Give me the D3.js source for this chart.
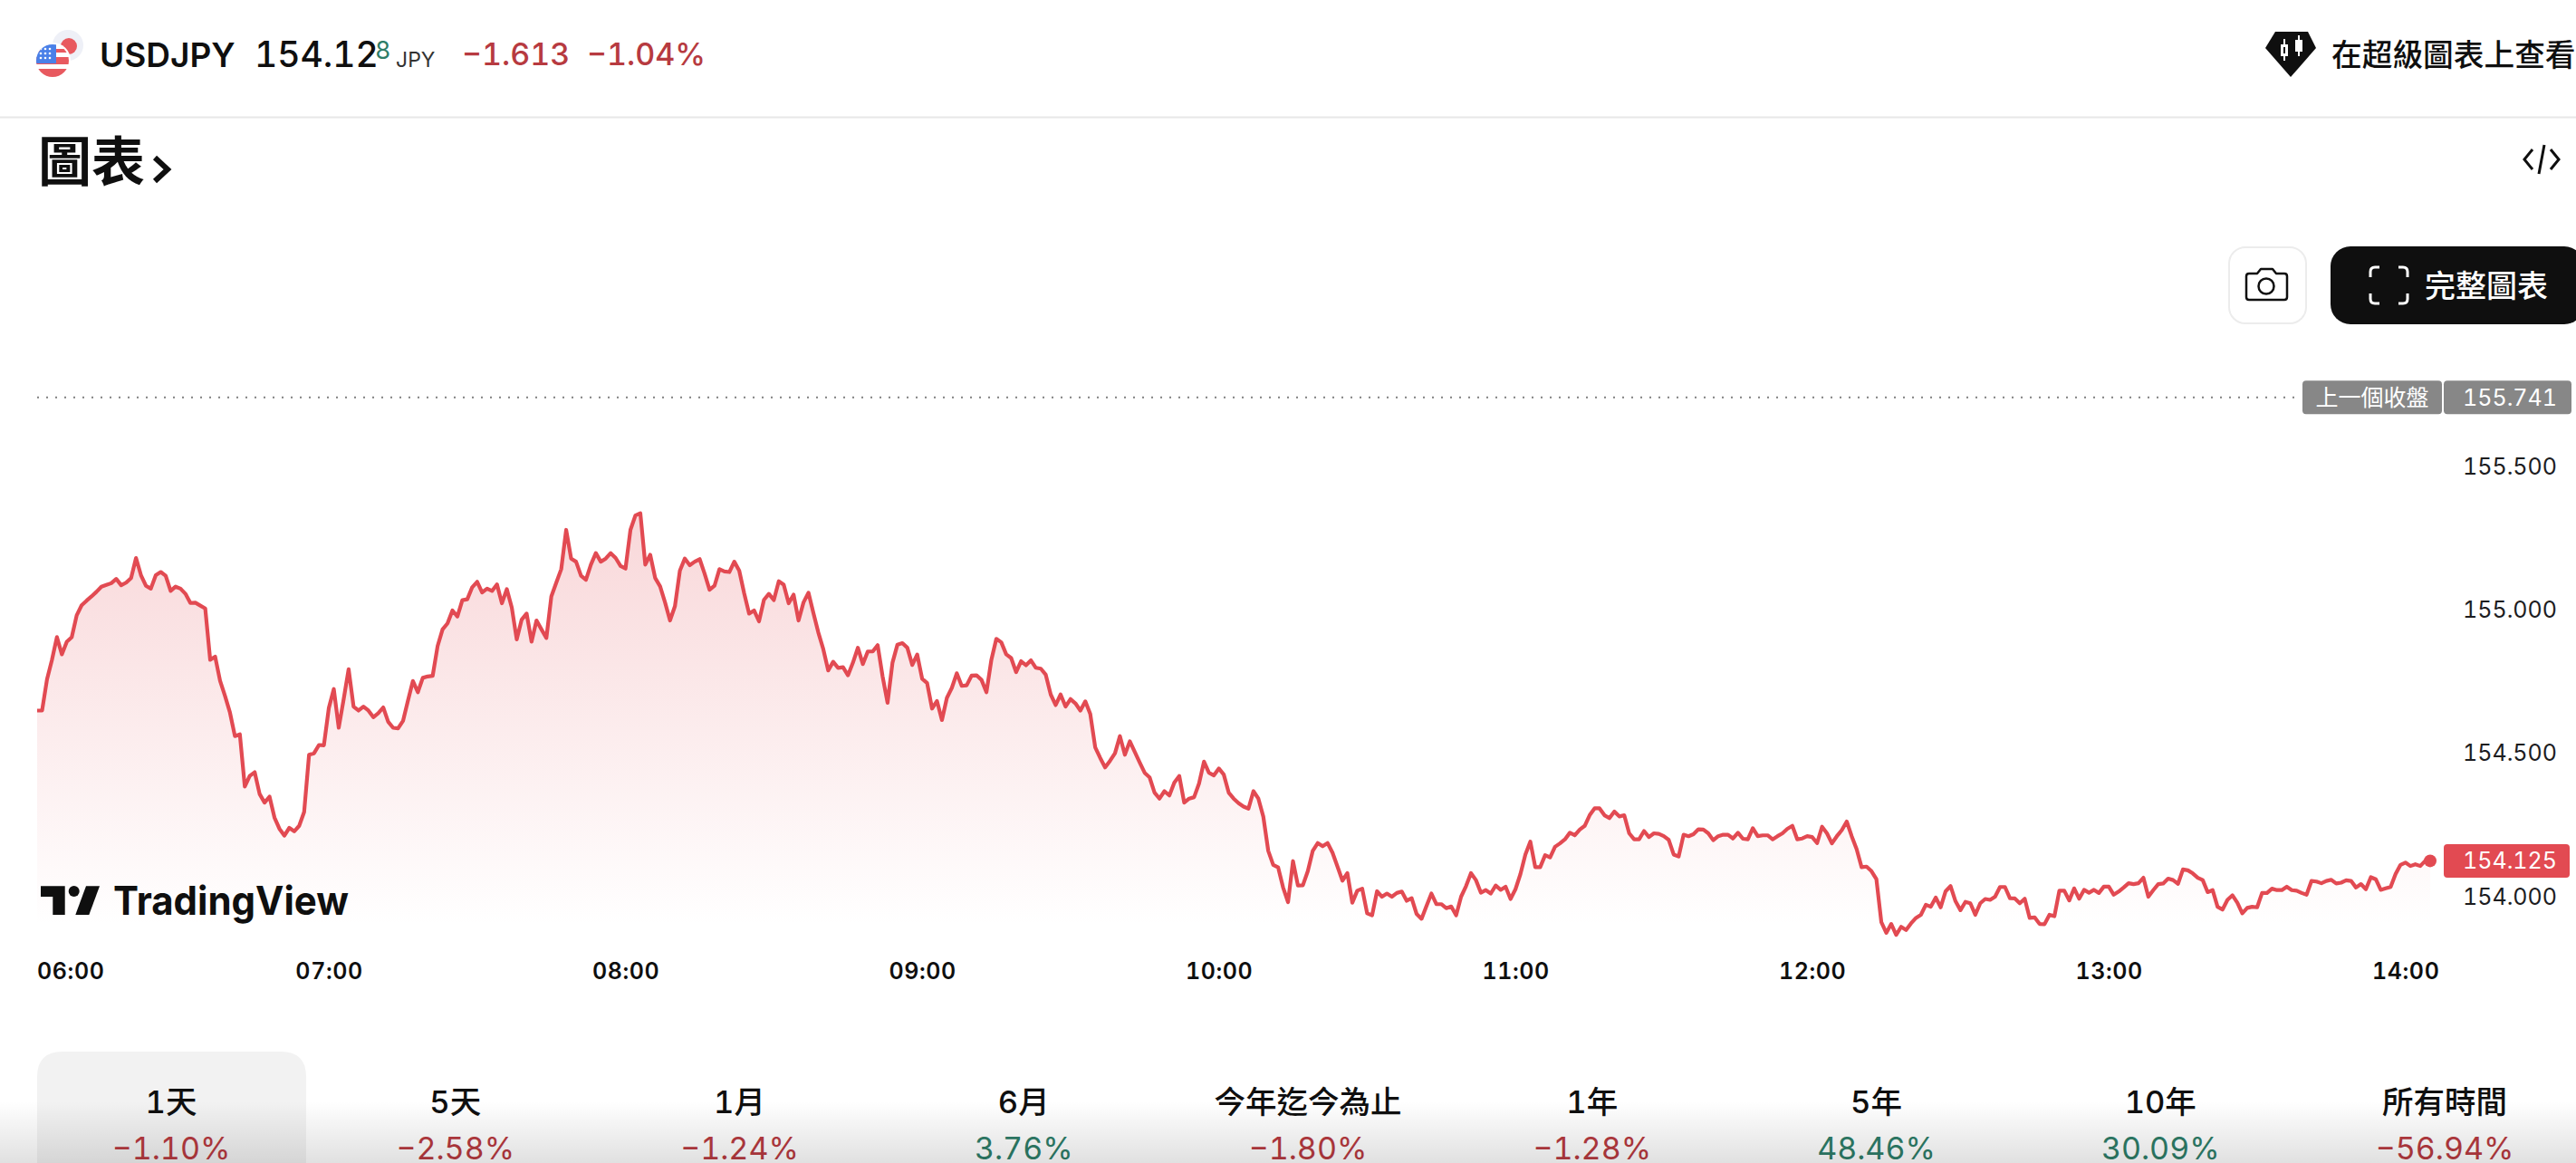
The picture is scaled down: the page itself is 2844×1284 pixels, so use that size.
<!DOCTYPE html>
<html>
<head>
<meta charset="utf-8">
<script src="https://cdn.jsdelivr.net/npm/d3@7"></script>
<style>
html, body { margin: 0; padding: 0; background: #fff; overflow: hidden; }
svg { display: block; }
text { font-family: "Inter", "Noto Sans CJK TC", sans-serif; font-feature-settings: "tnum"; }
.domain { display: none; }
</style>
</head>
<body>
<div id="chart"></div>
<script>
// one close per minute, first one at 06:01
var prices = [
154.649,154.649,154.758,154.826,154.905,154.845,154.889,154.905,154.981,155.016,
155.032,155.047,155.063,155.081,155.087,155.093,155.108,155.086,155.095,155.111,
155.181,155.121,155.084,155.074,155.121,155.132,155.119,155.066,155.081,155.074,
155.056,155.024,155.025,155.015,155.005,154.826,154.837,154.753,154.700,154.642,
154.560,154.566,154.384,154.421,154.434,154.358,154.328,154.349,154.276,154.237,
154.213,154.240,154.228,154.247,154.295,154.495,154.500,154.529,154.528,154.658,
154.724,154.589,154.689,154.793,154.663,154.649,154.663,154.649,154.626,154.640,
154.660,154.610,154.589,154.587,154.613,154.684,154.752,154.713,154.763,154.768,
154.770,154.874,154.932,154.953,154.998,154.977,155.034,155.037,155.079,155.098,
155.061,155.074,155.066,155.089,155.023,155.072,155.008,154.897,154.966,154.987,
154.889,154.963,154.932,154.902,155.047,155.095,155.142,155.279,155.179,155.168,
155.119,155.105,155.158,155.198,155.168,155.179,155.198,155.181,155.153,155.144,
155.279,155.329,155.337,155.158,155.192,155.111,155.082,155.026,154.963,155.013,
155.137,155.179,155.156,155.168,155.177,155.126,155.070,155.084,155.142,155.134,
155.132,155.168,155.137,155.058,154.987,154.998,154.960,155.035,155.056,155.034,
155.100,155.088,155.023,155.053,154.963,155.026,155.060,154.989,154.921,154.863,
154.789,154.819,154.798,154.800,154.772,154.816,154.868,154.811,154.855,154.855,
154.877,154.768,154.676,154.816,154.879,154.884,154.868,154.808,154.844,154.760,
154.745,154.656,154.682,154.616,154.693,154.728,154.779,154.735,154.737,154.771,
154.772,154.756,154.713,154.826,154.899,154.887,154.845,154.832,154.783,154.821,
154.807,154.824,154.798,154.795,154.774,154.705,154.668,154.705,154.663,154.689,
154.674,154.649,154.681,154.637,154.521,154.484,154.451,154.474,154.500,154.560,
154.495,154.542,154.505,154.468,154.432,154.416,154.363,154.342,154.368,154.353,
154.398,154.421,154.328,154.342,154.347,154.395,154.471,154.432,154.423,154.447,
154.426,154.363,154.342,154.326,154.314,154.307,154.368,154.342,154.279,154.160,
154.111,154.102,154.032,153.981,154.124,154.039,154.040,154.089,154.160,154.187,
154.176,154.187,154.153,154.105,154.056,154.082,153.979,154.021,154.028,153.942,
153.935,154.019,154.000,154.011,154.000,154.013,154.018,153.986,153.995,153.940,
153.923,153.968,154.011,153.974,153.974,153.960,153.966,153.935,154.000,154.037,
154.082,154.058,154.014,154.023,154.011,154.039,154.024,154.035,153.992,154.026,
154.079,154.147,154.192,154.103,154.103,154.145,154.137,154.174,154.186,154.200,
154.223,154.214,154.234,154.247,154.284,154.308,154.308,154.284,154.274,154.297,
154.280,154.284,154.221,154.200,154.200,154.229,154.208,154.221,154.219,154.211,
154.198,154.147,154.140,154.216,154.211,154.218,154.235,154.234,154.221,154.197,
154.211,154.216,154.216,154.203,154.223,154.202,154.200,154.239,154.211,154.214,
154.214,154.200,154.211,154.221,154.237,154.247,154.200,154.203,154.211,154.208,
154.187,154.244,154.221,154.186,154.211,154.232,154.262,154.211,154.166,154.103,
154.105,154.089,154.061,153.911,153.874,153.905,153.867,153.895,153.884,153.907,
153.926,153.937,153.972,153.965,153.997,153.963,154.019,154.037,153.984,153.953,
153.982,153.977,153.937,153.977,153.992,153.989,154.000,154.034,154.034,153.995,
153.994,153.977,153.993,153.926,153.928,153.905,153.904,153.937,153.932,154.021,
154.021,153.987,154.029,153.993,154.024,154.014,154.024,154.013,154.035,154.035,
154.007,154.018,154.032,154.047,154.044,154.047,154.066,154.000,154.023,154.044,
154.046,154.063,154.058,154.045,154.095,154.092,154.081,154.066,154.058,154.016,
154.023,153.965,153.955,153.989,154.005,153.979,153.942,153.961,153.965,153.963,
154.013,154.013,154.028,154.023,154.023,154.035,154.023,154.021,154.013,154.007,
154.055,154.053,154.047,154.055,154.059,154.046,154.049,154.057,154.055,154.032,
154.044,154.026,154.068,154.061,154.024,154.029,154.034,154.079,154.111,154.119,
154.107,154.113,154.107,154.125,154.125
];

var prevClose = 155.741;
var lastPrice = 154.125;
var priceTicks = [154, 154.5, 155, 155.5];
var areaFloor = 153.9;
var hourTicks = [6, 7, 8, 9, 10, 11, 12, 13, 14];

var periods = ["1天", "5天", "1月", "6月", "今年迄今為止", "1年", "5年", "10年", "所有時間"];
var periodChanges = ["−1.10%", "−2.58%", "−1.24%", "3.76%", "−1.80%", "−1.28%", "48.46%", "30.09%", "−56.94%"];

var red = "#e24a52", textRed = "#b73a40", textGreen = "#2e7d68", ink = "#0f0f0f";

var times = prices.map(function(d, i) { return new Date(Date.UTC(2024, 0, 1, 6, i + 1)); });

var svg = d3.select("#chart").append("svg")
    .attr("width", 2844)
    .attr("height", 1284);

var x = d3.scaleUtc().domain([times[0], times[times.length - 1]]).range([41, 2683]);
var y = d3.scaleLinear().domain([154, 155.5]).range([990, 515]);

// area + line
var defs = svg.append("defs");
var grad = defs.append("linearGradient").attr("id", "fade")
    .attr("gradientUnits", "userSpaceOnUse")
    .attr("x1", 0).attr("x2", 0)
    .attr("y1", y(d3.max(prices))).attr("y2", y(areaFloor));
grad.append("stop").attr("offset", 0).attr("stop-color", red).attr("stop-opacity", 0.22);
grad.append("stop").attr("offset", 1).attr("stop-color", red).attr("stop-opacity", 0);

var area = d3.area()
    .x(function(d, i) { return x(times[i]); })
    .y0(y(areaFloor))
    .y1(function(d) { return y(d); });
var line = d3.line()
    .x(function(d, i) { return x(times[i]); })
    .y(function(d) { return y(d); });

svg.append("path").datum(prices).attr("d", area).attr("fill", "url(#fade)");
svg.append("path").datum(prices).attr("d", line)
    .attr("fill", "none")
    .attr("stroke", red)
    .attr("stroke-width", 4.2)
    .attr("stroke-linejoin", "round");
svg.append("circle")
    .attr("cx", x(times[times.length - 1]))
    .attr("cy", y(lastPrice))
    .attr("r", 7)
    .attr("fill", red);

// previous close
svg.append("line")
    .attr("x1", 41).attr("x2", 2539)
    .attr("y1", y(prevClose)).attr("y2", y(prevClose))
    .attr("stroke", "#808080")
    .attr("stroke-width", 2)
    .attr("stroke-dasharray", "2 8");

function tag(x0, w, fill, label, anchorX, anchor) {
    svg.append("rect")
        .attr("x", x0).attr("y", y(label.v) - 18.5)
        .attr("width", w).attr("height", 37)
        .attr("rx", 4)
        .attr("fill", fill);
    svg.append("text")
        .attr("x", anchorX).attr("y", y(label.v) + 9)
        .attr("text-anchor", anchor)
        .attr("font-size", 25)
        .attr("fill", "#fff")
        .text(label.t);
}
tag(2542, 154, "#878787", { v: prevClose, t: "上一個收盤" }, 2619, "middle");
tag(2698, 141, "#878787", { v: prevClose, t: d3.format(".3f")(prevClose) }, 2823, "end");
tag(2698, 139, red, { v: lastPrice, t: d3.format(".3f")(lastPrice) }, 2823, "end");

// axes
var yAxis = svg.append("g")
    .attr("transform", "translate(2823,0)")
    .call(d3.axisLeft(y).tickValues(priceTicks).tickSize(0).tickPadding(0).tickFormat(d3.format(".3f")));
yAxis.selectAll("text")
    .attr("font-size", 25)
    .attr("fill", "#1d1d1f");

var xAxis = svg.append("g")
    .attr("transform", "translate(0,1050)")
    .call(d3.axisBottom(x)
        .tickValues(hourTicks.map(function(h) { return new Date(Date.UTC(2024, 0, 1, h)); }))
        .tickSize(0).tickPadding(13)
        .tickFormat(d3.utcFormat("%H:%M")));
xAxis.selectAll("text")
    .attr("font-size", 25)
    .attr("font-weight", 600)
    .attr("letter-spacing", 0.6)
    .attr("fill", ink);
// first label is pushed inside the pane
xAxis.select(".tick text").attr("text-anchor", "start").attr("x", 5);

// watermark
var logo = svg.append("g").attr("fill", ink);
logo.append("path").attr("d", "M45 978.3H71.7V1010H58.3V990H45Z");
logo.append("circle").attr("cx", 81.7).attr("cy", 984).attr("r", 6);
logo.append("path").attr("d", "M95 978.3H110L98.3 1010H83.3Z");
logo.append("text").attr("x", 125).attr("y", 1010)
    .attr("font-size", 44).attr("font-weight", 700)
    .attr("textLength", 260).attr("lengthAdjust", "spacingAndGlyphs")
    .text("TradingView");

// header
function label(px, py, size, weight, fill, str, anchor) {
    return svg.append("text")
        .attr("x", px).attr("y", py)
        .attr("font-size", size).attr("font-weight", weight)
        .attr("fill", fill)
        .attr("text-anchor", anchor || "start")
        .text(str);
}
label(110, 74, 37, 600, ink, "USDJPY");
label(281, 74, 39, 500, ink, "154.12");
label(414, 65, 27, 400, textGreen, "8");
label(437, 74, 23, 400, "#333", "JPY");
label(510, 72, 34, 500, textRed, "−1.613");
label(648, 72, 34, 500, textRed, "−1.04%");

// pair icon
svg.append("circle").attr("cx", 75).attr("cy", 50).attr("r", 17).attr("fill", "#eef0f7");
svg.append("circle").attr("cx", 76).attr("cy", 51).attr("r", 9).attr("fill", "#e8595f");
var flagClip = defs.append("clipPath").attr("id", "flagClip");
flagClip.append("circle").attr("cx", 58).attr("cy", 67).attr("r", 18);
svg.append("circle").attr("cx", 58).attr("cy", 67).attr("r", 20).attr("fill", "#fff");
var flag = svg.append("g").attr("clip-path", "url(#flagClip)");
flag.append("rect").attr("x", 40).attr("y", 49).attr("width", 36).attr("height", 36).attr("fill", "#fff");
flag.selectAll(".stripe").data([54, 63, 76]).enter().append("rect")
    .attr("x", 40).attr("y", function(d) { return d; })
    .attr("width", 36).attr("height", function(d) { return d == 76 ? 9 : d == 63 ? 8 : 4; })
    .attr("fill", "#e8595f");
flag.append("rect").attr("x", 40).attr("y", 49).attr("width", 22).attr("height", 21).attr("fill", "#4a80e8");
[54, 59, 64].forEach(function(sy) {
    [45, 50, 55].forEach(function(sx) {
        flag.append("circle").attr("cx", sx).attr("cy", sy).attr("r", 1.3).attr("fill", "#fff");
    });
});

svg.append("line")
    .attr("x1", 0).attr("x2", 2844).attr("y1", 129.5).attr("y2", 129.5)
    .attr("stroke", "#e8e8e8").attr("stroke-width", 2);

// super chart link
svg.append("path").attr("fill", ink)
    .attr("d", "M2512 35H2548L2557 53L2529 85L2501 53Z");
svg.append("path").attr("fill", "none").attr("stroke", "#fff").attr("stroke-width", 2)
    .attr("d", "M2522 43V67M2538 39V62");
svg.append("path").attr("fill", "#fff")
    .attr("d", "M2518 49H2526V62H2518ZM2534 44H2542V57H2534Z");
svg.append("path").attr("fill", ink)
    .attr("d", "M2521 52H2523V59H2521Z");
label(2574, 73, 33.7, 500, ink, "在超級圖表上查看");

// section title
label(42, 200, 59, 600, ink, "圖表");
svg.append("path").attr("fill", "none").attr("stroke", ink).attr("stroke-width", 6)
    .attr("d", "M171 174L185 187L171 200");

// embed icon
svg.append("path").attr("fill", "none").attr("stroke", ink).attr("stroke-width", 3)
    .attr("d", "M2796 165L2787 176L2796 187M2816 165L2825 176L2816 187M2809 160L2803 192");

// camera button
svg.append("rect")
    .attr("x", 2461).attr("y", 273).attr("width", 85).attr("height", 84).attr("rx", 18)
    .attr("fill", "#fff").attr("stroke", "#ececec").attr("stroke-width", 2);
svg.append("path").attr("fill", "none").attr("stroke", ink).attr("stroke-width", 2.5)
    .attr("stroke-linejoin", "round")
    .attr("d", "M2483 302H2492L2496 297H2509L2513 302H2522Q2525 302 2525 305V328Q2525 331 2522 331H2483Q2480 331 2480 328V305Q2480 302 2483 302Z");
svg.append("circle").attr("cx", 2502).attr("cy", 316).attr("r", 8.5)
    .attr("fill", "none").attr("stroke", ink).attr("stroke-width", 2.5);

// full chart button
svg.append("rect")
    .attr("x", 2573).attr("y", 272).attr("width", 280).attr("height", 86).attr("rx", 22)
    .attr("fill", ink);
svg.append("path").attr("fill", "none").attr("stroke", "#fff").attr("stroke-width", 3)
    .attr("d", "M2627 295H2622Q2617 295 2617 300V306M2648 295H2653Q2658 295 2658 300V306M2627 335H2622Q2617 335 2617 330V324M2648 335H2653Q2658 335 2658 330V324");
label(2677, 328, 34, 500, "#fff", "完整圖表");

// period tabs
var tabX = d3.scalePoint().domain(periods).range([189, 2699]);

svg.append("path").attr("fill", "#f2f2f2")
    .attr("d", "M41 1284V1189Q41 1161 69 1161H310Q338 1161 338 1189V1284Z");

var tabs = svg.selectAll(".tab").data(periods).enter().append("g")
    .attr("class", "tab")
    .attr("transform", function(d) { return "translate(" + tabX(d) + ",0)"; });
tabs.append("text")
    .attr("y", 1229)
    .attr("text-anchor", "middle")
    .attr("font-size", 34.5)
    .attr("font-weight", 500)
    .attr("fill", ink)
    .text(function(d) { return d; });
tabs.append("text")
    .attr("y", 1280)
    .attr("text-anchor", "middle")
    .attr("font-size", 34)
    .attr("fill", function(d, i) { return periodChanges[i].charAt(0) == "−" ? textRed : textGreen; })
    .text(function(d, i) { return periodChanges[i]; });

// bottom fade over the tabs
var shade = defs.append("linearGradient").attr("id", "shade")
    .attr("x1", 0).attr("x2", 0).attr("y1", 0).attr("y2", 1);
shade.append("stop").attr("offset", 0).attr("stop-color", "#000").attr("stop-opacity", 0);
shade.append("stop").attr("offset", 1).attr("stop-color", "#000").attr("stop-opacity", 0.12);
svg.append("rect")
    .attr("x", 0).attr("y", 1216).attr("width", 2844).attr("height", 68)
    .attr("fill", "url(#shade)");
</script>
</body>
</html>
